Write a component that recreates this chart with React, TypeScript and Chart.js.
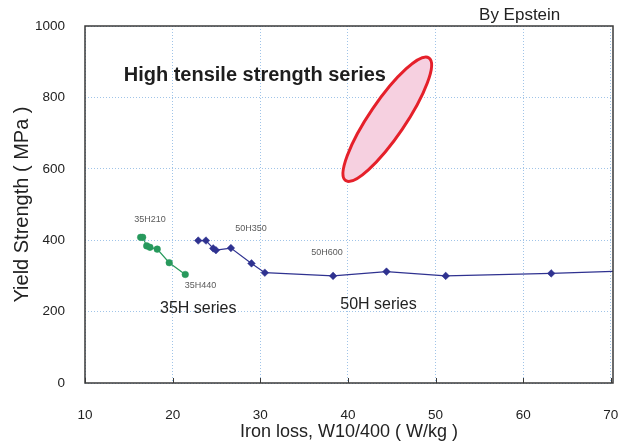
import React, { useEffect, useRef } from "react";
import { Chart, registerables } from "chart.js";

Chart.register(...registerables);

const FONT = "'Liberation Sans', Arial, Helvetica, sans-serif";

// Axes
const xTickValues = [10, 20, 30, 40, 50, 60, 70];
const xMin = 10;
const xMax = 70.25;
const yMin = 0;
const yMax = 1000;
const yStep = 200;

// 35H series (green)
const ironLoss35H = [16.35, 16.58, 17.04, 17.41, 18.24, 19.61, 21.44];
const yield35H = [408, 408, 384, 380, 375, 337, 304];

// 50H series (blue)
const ironLoss50H = [22.92, 23.8, 24.63, 24.94, 26.65, 29.0, 30.52, 38.31, 44.4, 51.16, 63.2, 72.0];
const yield50H = [399, 399, 377, 372, 378, 335, 309, 300, 312, 300, 307, 314];

// Grade labels
const gradeLabels = ["35H210", "35H440", "50H350", "50H600"];
const gradeLabelX = [17.41, 23.17, 28.95, 37.62];
const gradeLabelY = [458, 272, 433, 365];

// Series labels
const seriesLabels = ["35H series", "50H series"];
const seriesLabelX = [22.92, 43.49];
const seriesLabelY = [209, 218.5];

// High tensile strength region
const highTensileLabel = "High tensile strength series";
const highTensileX = 29.38;
const highTensileY = 862;
const ellipseAxisX = [39.74, 49.25];
const ellipseAxisY = [567, 910.6];

const sourceNote = "By Epstein";
const sourceNoteX = 59.6;

const BLUE = "#2f3290";
const GREEN = "#27995c";

const overlayPlugin = {
  id: "overlay",
  beforeDatasetsDraw(chart: any) {
    const { ctx, chartArea, scales } = chart;
    const x = scales.x;
    const y = scales.y;
    ctx.save();
    ctx.beginPath();
    ctx.rect(chartArea.left, chartArea.top, chartArea.right - chartArea.left, chartArea.bottom - chartArea.top);
    ctx.clip();
    const x1 = x.getPixelForValue(ellipseAxisX[0]);
    const x2 = x.getPixelForValue(ellipseAxisX[1]);
    const y1 = y.getPixelForValue(ellipseAxisY[0]);
    const y2 = y.getPixelForValue(ellipseAxisY[1]);
    const cx = (x1 + x2) / 2;
    const cy = (y1 + y2) / 2;
    const a = Math.hypot(x2 - x1, y2 - y1) / 2;
    const ang = Math.atan2(y2 - y1, x2 - x1);
    ctx.beginPath();
    ctx.ellipse(cx, cy, a, 18, ang, 0, Math.PI * 2);
    ctx.fillStyle = "#f6d0e0";
    ctx.fill();
    ctx.lineWidth = 3;
    ctx.strokeStyle = "#e5202a";
    ctx.stroke();
    ctx.restore();
  },
  afterDatasetsDraw(chart: any) {
    const { ctx, chartArea, scales } = chart;
    const x = scales.x;
    const y = scales.y;
    ctx.save();
    // frame
    ctx.strokeStyle = "#3a3a3a";
    ctx.lineWidth = 1.5;
    ctx.strokeRect(chartArea.left, chartArea.top, chartArea.right - chartArea.left, chartArea.bottom - chartArea.top);
    // inward ticks on x axis
    ctx.lineWidth = 1;
    ctx.beginPath();
    xTickValues.forEach((v) => {
      const px = Math.round(x.getPixelForValue(v)) + 0.5;
      ctx.moveTo(px, chartArea.bottom);
      ctx.lineTo(px, chartArea.bottom - 5);
    });
    ctx.stroke();

    ctx.textAlign = "center";
    ctx.textBaseline = "middle";
    // grade labels
    ctx.fillStyle = "#5a5a5a";
    ctx.font = `9px ${FONT}`;
    gradeLabels.forEach((t, i) => {
      ctx.fillText(t, x.getPixelForValue(gradeLabelX[i]), y.getPixelForValue(gradeLabelY[i]));
    });
    // series labels
    ctx.fillStyle = "#222";
    ctx.font = `16px ${FONT}`;
    seriesLabels.forEach((t, i) => {
      ctx.fillText(t, x.getPixelForValue(seriesLabelX[i]), y.getPixelForValue(seriesLabelY[i]));
    });
    // high tensile label
    ctx.font = `bold 20px ${FONT}`;
    ctx.fillStyle = "#1e1e1e";
    ctx.fillText(highTensileLabel, x.getPixelForValue(highTensileX), y.getPixelForValue(highTensileY));
    // source note
    ctx.font = `17px ${FONT}`;
    ctx.fillStyle = "#222";
    ctx.fillText(sourceNote, x.getPixelForValue(sourceNoteX), chartArea.top - 11);
    ctx.restore();
  },
};

export default function App() {
  const ref = useRef<HTMLCanvasElement>(null);
  useEffect(() => {
    document.body.style.margin = "0";
    const chart = new Chart(ref.current as HTMLCanvasElement, {
      type: "scatter",
      data: {
        datasets: [
          {
            label: "35H",
            data: ironLoss35H.map((v, i) => ({ x: v, y: yield35H[i] })),
            showLine: true,
            borderColor: GREEN,
            backgroundColor: GREEN,
            borderWidth: 1.2,
            pointRadius: 3.3,
            pointBorderWidth: 0.5,
            pointStyle: "circle",
          },
          {
            label: "50H",
            data: ironLoss50H.map((v, i) => ({ x: v, y: yield50H[i] })),
            showLine: true,
            borderColor: BLUE,
            backgroundColor: BLUE,
            borderWidth: 1.2,
            pointRadius: 3.8,
            pointBorderWidth: 0.5,
            pointStyle: "rectRot",
          },
        ],
      },
      plugins: [overlayPlugin],
      options: {
        animation: false,
        responsive: false,
        devicePixelRatio: 1,
        layout: { padding: { top: 26, right: 13, left: 0, bottom: 0 } },
        plugins: { legend: { display: false }, tooltip: { enabled: false } },
        scales: {
          x: {
            type: "linear",
            min: xMin,
            max: xMax,
            afterBuildTicks: (scale: any) => {
              scale.ticks = xTickValues.map((v) => ({ value: v }));
            },
            afterFit: (scale: any) => {
              scale.height = 58;
            },
            grid: {
              color: "rgba(150,190,230,0.9)",
              lineWidth: 1,
              drawTicks: true,
              tickLength: 20,
              tickColor: "rgba(0,0,0,0)",
            },
            border: { display: false, dash: [1, 2] },
            ticks: {
              padding: 4,
              color: "#222",
              font: { family: FONT, size: 13.5 },
              maxRotation: 0,
              autoSkip: false,
              callback: (v: any) => String(v),
            },
            title: {
              display: true,
              text: "Iron loss, W10/400 ( W/kg )",
              color: "#222",
              font: { family: FONT, size: 18, lineHeight: 1 },
              padding: { top: 0, bottom: 0 },
            },
          },
          y: {
            type: "linear",
            min: yMin,
            max: yMax,
            afterFit: (scale: any) => {
              scale.width = 85;
            },
            grid: {
              color: "rgba(150,190,230,0.9)",
              lineWidth: 1,
              drawTicks: true,
              tickLength: 16,
              tickColor: "rgba(0,0,0,0)",
            },
            border: { display: false, dash: [1, 2] },
            ticks: {
              stepSize: yStep,
              padding: 4,
              color: "#222",
              font: { family: FONT, size: 13.5 },
              callback: (v: any) => String(v),
            },
            title: {
              display: true,
              text: "Yield Strength ( MPa )",
              color: "#222",
              font: { family: FONT, size: 20, lineHeight: 1 },
              padding: { top: 12, bottom: 0 },
            },
          },
        },
      },
    } as any);
    return () => chart.destroy();
  }, []);
  return (
    <div style={{ width: 626, height: 441 }}>
      <canvas ref={ref} width={626} height={441} style={{ display: "block" }} />
    </div>
  );
}
